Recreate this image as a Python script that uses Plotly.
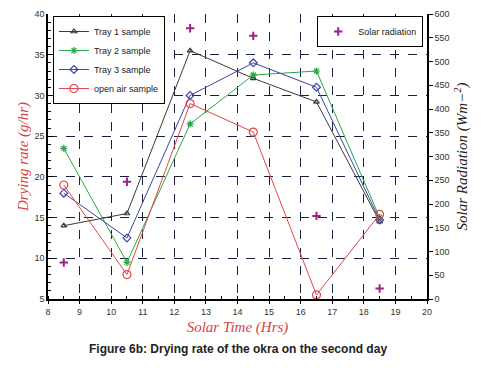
import plotly.graph_objects as go

time_hrs = [8.5, 10.5, 12.5, 14.5, 16.5, 18.5]
tray1 = [14.0, 15.5, 35.5, 32.1, 29.2, 14.5]
tray2 = [23.5, 9.5, 26.5, 32.5, 33.0, 15.0]
tray3 = [18.0, 12.5, 30.0, 34.0, 31.0, 14.7]
open_air = [19.0, 8.0, 29.0, 25.5, 5.5, 15.4]
solar_rad = [77, 247, 570, 554, 175, 22]

fig = go.Figure()

series = [
    ("Tray 1 sample", tray1, "#3a3a3a", "triangle-up-open", 5),
    ("Tray 2 sample", tray2, "#2aa845", "asterisk-open", 6),
    ("Tray 3 sample", tray3, "#3b45a8", "diamond-open", 6),
    ("open air sample", open_air, "#e0474c", "circle-open", 8),
]
for name, vals, col, sym, sz in series:
    fig.add_trace(go.Scatter(
        x=time_hrs, y=vals, name=name, mode="lines+markers",
        line=dict(color=col, width=1),
        marker=dict(symbol=sym, size=sz, color=col, line=dict(width=1.2, color=col)),
        legend="legend",
    ))

fig.add_trace(go.Scatter(
    x=time_hrs, y=solar_rad, name="Solar radiation", mode="markers",
    marker=dict(symbol="cross-thin-open", size=6, color="#a0208a",
                line=dict(width=2, color="#a0208a")),
    yaxis="y2", legend="legend2",
))

grid = dict(showgrid=True, gridcolor="#1a2040", griddash="dash", gridwidth=1)
tickfont = dict(family="Liberation Sans, Arial, sans-serif", size=9, color="#333")
titlefont = dict(family="Liberation Serif, serif", size=15, color="#d9414a", style="italic")

fig.update_layout(
    width=474, height=362,
    margin=dict(l=40, r=55, t=6, b=71),
    paper_bgcolor="white", plot_bgcolor="white",
    xaxis=dict(
        range=[8, 20], dtick=1, tick0=8, **grid, automargin=False,
        showline=True, linecolor="black", linewidth=1.5,
        ticks="outside", ticklen=3, tickcolor="black", tickfont=tickfont,
        minor=dict(ticks="inside", dtick=0.5, ticklen=3, tickcolor="black", showgrid=False),
        zeroline=False,
        title=dict(text="Solar Time (Hrs)", standoff=6, font=titlefont),
    ),
    yaxis=dict(
        range=[5, 40], dtick=5, **grid, automargin=False,
        showline=True, linecolor="black", linewidth=1.5,
        ticks="inside", ticklen=5, tickcolor="black", tickfont=tickfont,
        minor=dict(ticks="inside", dtick=1, ticklen=3, tickcolor="black", showgrid=False),
        zeroline=False,
        title=dict(text="Drying rate (g/hr)", standoff=2, font=titlefont),
    ),
    yaxis2=dict(
        range=[0, 600], dtick=50, overlaying="y", side="right",
        showgrid=False, zeroline=False, automargin=False,
        showline=True, linecolor="black", linewidth=1.5,
        ticks="outside", ticklen=4, tickcolor="black", tickfont=tickfont,
        title=dict(text="Solar Radiation (Wm−<sup>2</sup>)", standoff=8,
                   font=dict(family="Liberation Serif, serif", size=15, color="#222", style="italic")),
    ),
    legend=dict(
        x=0.013, y=0.993, xanchor="left", yanchor="top",
        bgcolor="white", bordercolor="black", borderwidth=1,
        font=dict(family="Liberation Sans, Arial, sans-serif", size=9, color="#222"),
        tracegroupgap=0, itemwidth=30,
    ),
    legend2=dict(
        x=0.99, y=0.993, xanchor="right", yanchor="top",
        bgcolor="white", bordercolor="black", borderwidth=1,
        font=dict(family="Liberation Sans, Arial, sans-serif", size=9, color="#222"),
        itemwidth=30,
    ),
    annotations=[dict(
        text="<b>Figure 6b: Drying rate of the okra on the second day</b>",
        xref="paper", yref="paper", x=0.5, y=-0.145, yanchor="top", showarrow=False,
        font=dict(family="Liberation Sans, Arial, sans-serif", size=12, color="#222"),
    )],
)

fig.write_html("out.html")
